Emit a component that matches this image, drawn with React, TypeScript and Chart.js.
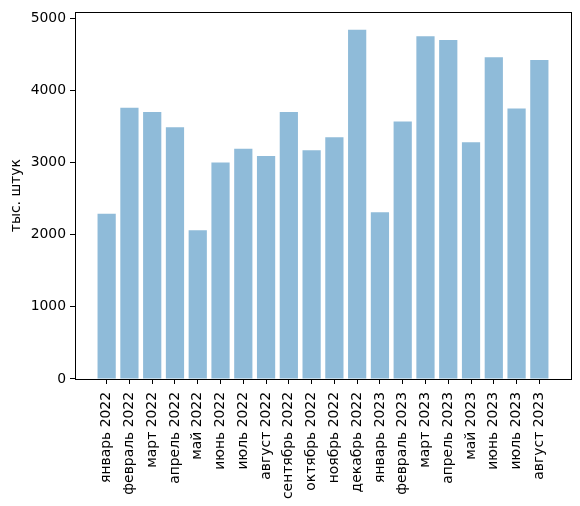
import React, { useEffect, useRef } from "react";
import { Chart, registerables } from "chart.js";

Chart.register(...registerables);

const months = [
  "январь 2022",
  "февраль 2022",
  "март 2022",
  "апрель 2022",
  "май 2022",
  "июнь 2022",
  "июль 2022",
  "август 2022",
  "сентябрь 2022",
  "октябрь 2022",
  "ноябрь 2022",
  "декабрь 2022",
  "январь 2023",
  "февраль 2023",
  "март 2023",
  "апрель 2023",
  "май 2023",
  "июнь 2023",
  "июль 2023",
  "август 2023",
];

// тыс. штук
const amounts = [
  2290, 3760, 3700, 3490, 2060, 3000, 3190, 3090, 3700, 3170, 3350, 4840, 2310,
  3570, 4750, 4700, 3280, 4460, 3750, 4420,
];

const yTicks = [0, 1000, 2000, 3000, 4000, 5000];

const FONT = "'DejaVu Sans', sans-serif";
const FONT_SIZE = 13.9;

// рамка вокруг области графика, как в matplotlib
const framePlugin = {
  id: "frame",
  afterDatasetsDraw(chart: Chart) {
    const { ctx, chartArea } = chart;
    ctx.save();
    ctx.strokeStyle = "#000";
    ctx.lineWidth = 1;
    ctx.strokeRect(
      Math.round(chartArea.left) + 0.5,
      Math.round(chartArea.top) + 0.5,
      Math.round(chartArea.right - chartArea.left),
      Math.round(chartArea.bottom - chartArea.top)
    );
    ctx.restore();
  },
};

const App: React.FC = () => {
  const canvasRef = useRef<HTMLCanvasElement>(null);
  const chartRef = useRef<Chart | null>(null);

  useEffect(() => {
    if (!canvasRef.current) return;
    if (chartRef.current) chartRef.current.destroy();

    const n = months.length;
    // поля как у matplotlib: 5% от ширины столбцов
    const span = n - 1 + 0.8;
    const margin = span * 0.05;
    const yMax = Math.max(...amounts) * 1.05;

    chartRef.current = new Chart(canvasRef.current, {
      type: "bar",
      data: {
        datasets: [
          {
            data: amounts.map((v, i) => ({ x: i, y: v })),
            backgroundColor: "rgba(31, 119, 180, 0.5)",
            borderWidth: 0,
            barPercentage: 0.8,
            categoryPercentage: 1,
          },
        ],
      },
      options: {
        responsive: false,
        animation: false,
        devicePixelRatio: 1,
        layout: { padding: { top: 9, right: 9, left: 0, bottom: 0 } },
        plugins: {
          legend: { display: false },
          tooltip: { enabled: false },
        },
        scales: {
          x: {
            type: "linear",
            offset: false,
            min: -0.4 - margin,
            max: n - 1 + 0.4 + margin,
            grid: {
              offset: false,
              drawOnChartArea: false,
              drawTicks: true,
              tickLength: 5,
              tickColor: "#000",
            },
            border: { display: false },
            ticks: {
              autoSkip: false,
              maxRotation: 90,
              minRotation: 90,
              padding: 8,
              color: "#000",
              font: { family: FONT, size: FONT_SIZE },
              callback: (value) => months[Number(value)] ?? "",
            },
            afterBuildTicks: (axis) => {
              axis.ticks = months.map((_, i) => ({ value: i }));
            },
            afterFit: (axis) => {
              axis.height = 127;
            },
          },
          y: {
            min: 0,
            max: yMax,
            grid: {
              drawOnChartArea: false,
              drawTicks: true,
              tickLength: 5,
              tickColor: "#000",
            },
            border: { display: false },
            ticks: {
              padding: 4,
              color: "#000",
              font: { family: FONT, size: FONT_SIZE },
              callback: (value) => String(value),
            },
            afterBuildTicks: (axis) => {
              axis.ticks = yTicks.map((v) => ({ value: v }));
            },
            title: {
              display: true,
              text: "тыс. штук",
              color: "#000",
              font: { family: FONT, size: FONT_SIZE },
              padding: { top: 8, bottom: 0 },
            },
            afterFit: (axis) => {
              axis.width = 75;
            },
          },
        },
      },
      plugins: [framePlugin],
    });

    return () => {
      if (chartRef.current) {
        chartRef.current.destroy();
        chartRef.current = null;
      }
    };
  }, []);

  return (
    <div
      style={{
        position: "fixed",
        left: 0,
        top: 0,
        width: 580,
        height: 506,
        background: "#fff",
      }}
    >
      <canvas
        ref={canvasRef}
        width={580}
        height={506}
        style={{ display: "block" }}
      ></canvas>
    </div>
  );
};

export default App;
